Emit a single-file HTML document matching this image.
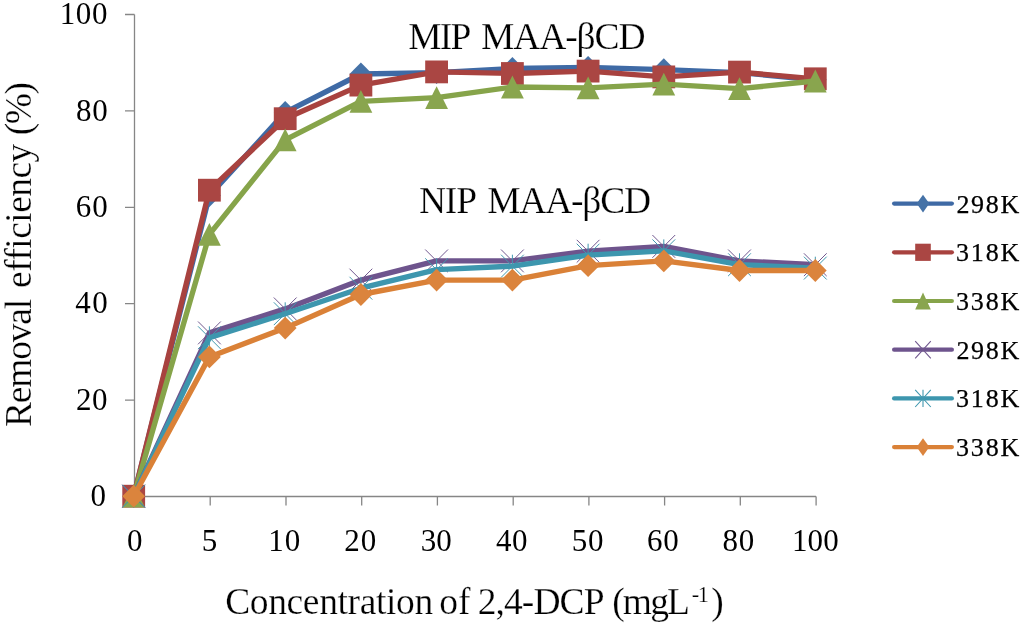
<!DOCTYPE html>
<html><head><meta charset="utf-8"><title>Removal efficiency chart</title>
<style>html,body{margin:0;padding:0;background:#fff}svg{display:block}text{font-family:"Liberation Serif",serif;fill:#000;white-space:pre}.t{stroke:#fff;stroke-width:.25px}.l{stroke:#000;stroke-width:.25px}</style></head><body>
<svg width="1024" height="629" viewBox="0 0 1024 629">
<rect width="1024" height="629" fill="#fff"/>
<g stroke="#868686" stroke-width="1.3" fill="none">
<path d="M134.5 14.5V496.5H816.1"/>
<path d="M125 496.5H134.5M125 400.1H134.5M125 303.7H134.5M125 207.3H134.5M125 110.9H134.5M125 14.5H134.5M134.5 496.5V505.5M210.2 496.5V505.5M286.0 496.5V505.5M361.7 496.5V505.5M437.4 496.5V505.5M513.2 496.5V505.5M588.9 496.5V505.5M664.6 496.5V505.5M740.3 496.5V505.5M816.1 496.5V505.5"/>
</g>
<g>
<text x="59.78" y="24.2" font-size="31" style="letter-spacing:0.60px">100</text>
<text x="75.93" y="120.6" font-size="31" style="letter-spacing:0.84px">80</text>
<text x="75.73" y="217.0" font-size="31" style="letter-spacing:1.04px">60</text>
<text x="75.32" y="313.4" font-size="31" style="letter-spacing:1.45px">40</text>
<text x="76.03" y="409.8" font-size="31" style="letter-spacing:0.54px">20</text>
<text x="90.60" y="506.2" font-size="31">0</text>
<text x="126.95" y="551.0" font-size="31">0</text>
<text x="201.81" y="551.0" font-size="31">5</text>
<text x="268.18" y="551.0" font-size="31" style="letter-spacing:0.99px">10</text>
<text x="344.13" y="551.0" font-size="31" style="letter-spacing:1.04px">20</text>
<text x="420.85" y="551.0" font-size="31" style="letter-spacing:-0.08px">30</text>
<text x="496.02" y="551.0" font-size="31" style="letter-spacing:0.45px">40</text>
<text x="571.75" y="551.0" font-size="31" style="letter-spacing:0.72px">50</text>
<text x="646.93" y="551.0" font-size="31" style="letter-spacing:0.84px">60</text>
<text x="722.53" y="551.0" font-size="31" style="letter-spacing:0.84px">80</text>
<text x="791.98" y="551.0" font-size="31" style="letter-spacing:0.10px">100</text>
<text class="l" x="956.39" y="212.6" font-size="26" style="letter-spacing:1.71px">298K</text>
<text class="l" x="955.98" y="261.3" font-size="26" style="letter-spacing:1.84px">318K</text>
<text class="l" x="955.98" y="310.0" font-size="26" style="letter-spacing:1.84px">338K</text>
<text class="l" x="956.39" y="358.7" font-size="26" style="letter-spacing:1.71px">298K</text>
<text class="l" x="955.98" y="407.4" font-size="26" style="letter-spacing:1.84px">318K</text>
<text class="l" x="955.98" y="456.1" font-size="26" style="letter-spacing:1.84px">338K</text>
<text class="t" font-size="37.5"><tspan x="225.13" y="613.5" style="letter-spacing:-0.36px">Concentration</tspan> <tspan x="439.23" y="613.5" style="letter-spacing:-0.07px">of</tspan> <tspan x="477.63" y="613.5" style="letter-spacing:-0.90px">2,4-DCP</tspan> <tspan x="612.13" y="613.5" style="letter-spacing:-1.81px">(mgL</tspan><tspan x="691.80" y="601.5" font-size="22.5" style="letter-spacing:-1.58px">-1</tspan><tspan x="711.30" y="613.5">)</tspan></text>
<text class="t" font-size="37.5"><tspan x="408.16" y="48.6" style="letter-spacing:-1.71px">MIP</tspan> <tspan x="481.01" y="48.6" style="letter-spacing:-1.10px">MAA-βCD</tspan></text>
<text class="t" font-size="37.5"><tspan x="418.91" y="213.2" style="letter-spacing:-1.15px">NIP</tspan> <tspan x="487.31" y="213.2" style="letter-spacing:-1.23px">MAA-βCD</tspan></text>
<text class="t" transform="translate(30.8 426.4) rotate(-90)" font-size="37.5"><tspan x="-0.59" y="0.0" style="letter-spacing:-1.22px">Removal</tspan> <tspan x="138.43" y="0.0" style="letter-spacing:-0.54px">efficiency</tspan> <tspan x="291.23" y="0.0" style="letter-spacing:-1.54px">(%)</tspan></text>
</g>
<polyline points="133.7,496.2 209.4,195.5 285.2,112.4 360.9,74.0 436.6,72.6 512.4,68.5 588.1,67.3 663.8,69.7 739.5,72.6 815.3,79.8" fill="none" stroke="#3F6AA5" stroke-width="5.35" stroke-linejoin="round" stroke-linecap="round"/>
<path d="M133.7 484.8L145.1 496.2L133.7 507.6L122.3 496.2Z" fill="#4572A7"/>
<path d="M209.4 184.1L220.8 195.5L209.4 206.9L198.0 195.5Z" fill="#4572A7"/>
<path d="M285.2 101.0L296.6 112.4L285.2 123.8L273.8 112.4Z" fill="#4572A7"/>
<path d="M360.9 62.6L372.3 74.0L360.9 85.4L349.5 74.0Z" fill="#4572A7"/>
<path d="M436.6 61.2L448.0 72.6L436.6 84.0L425.2 72.6Z" fill="#4572A7"/>
<path d="M512.4 57.1L523.8 68.5L512.4 79.9L501.0 68.5Z" fill="#4572A7"/>
<path d="M588.1 55.9L599.5 67.3L588.1 78.7L576.7 67.3Z" fill="#4572A7"/>
<path d="M663.8 58.3L675.2 69.7L663.8 81.1L652.4 69.7Z" fill="#4572A7"/>
<path d="M739.5 61.2L750.9 72.6L739.5 84.0L728.1 72.6Z" fill="#4572A7"/>
<path d="M815.3 68.4L826.7 79.8L815.3 91.2L803.9 79.8Z" fill="#4572A7"/>
<polyline points="133.7,496.2 209.4,190.2 285.2,118.7 360.9,85.1 436.6,71.9 512.4,73.5 588.1,71.1 663.8,76.9 739.5,72.1 815.3,78.8" fill="none" stroke="#A8423F" stroke-width="5.35" stroke-linejoin="round" stroke-linecap="round"/>
<rect x="122.3" y="484.8" width="22.8" height="22.8" fill="#AA4643"/>
<rect x="198.0" y="178.8" width="22.8" height="22.8" fill="#AA4643"/>
<rect x="273.8" y="107.3" width="22.8" height="22.8" fill="#AA4643"/>
<rect x="349.5" y="73.7" width="22.8" height="22.8" fill="#AA4643"/>
<rect x="425.2" y="60.5" width="22.8" height="22.8" fill="#AA4643"/>
<rect x="501.0" y="62.1" width="22.8" height="22.8" fill="#AA4643"/>
<rect x="576.7" y="59.7" width="22.8" height="22.8" fill="#AA4643"/>
<rect x="652.4" y="65.5" width="22.8" height="22.8" fill="#AA4643"/>
<rect x="728.1" y="60.7" width="22.8" height="22.8" fill="#AA4643"/>
<rect x="803.9" y="67.4" width="22.8" height="22.8" fill="#AA4643"/>
<polyline points="133.7,496.2 209.4,234.4 285.2,139.8 360.9,101.4 436.6,97.6 512.4,87.0 588.1,87.9 663.8,84.1 739.5,88.7 815.3,81.0" fill="none" stroke="#86A44A" stroke-width="5.35" stroke-linejoin="round" stroke-linecap="round"/>
<path d="M133.7 484.8L145.1 507.6L122.3 507.6Z" fill="#89A54E"/>
<path d="M209.4 223.0L220.8 245.8L198.0 245.8Z" fill="#89A54E"/>
<path d="M285.2 128.4L296.6 151.2L273.8 151.2Z" fill="#89A54E"/>
<path d="M360.9 90.0L372.3 112.8L349.5 112.8Z" fill="#89A54E"/>
<path d="M436.6 86.2L448.0 109.0L425.2 109.0Z" fill="#89A54E"/>
<path d="M512.4 75.6L523.8 98.4L501.0 98.4Z" fill="#89A54E"/>
<path d="M588.1 76.5L599.5 99.3L576.7 99.3Z" fill="#89A54E"/>
<path d="M663.8 72.7L675.2 95.5L652.4 95.5Z" fill="#89A54E"/>
<path d="M739.5 77.3L750.9 100.1L728.1 100.1Z" fill="#89A54E"/>
<path d="M815.3 69.6L826.7 92.4L803.9 92.4Z" fill="#89A54E"/>
<polyline points="133.7,496.2 209.4,332.9 285.2,308.9 360.9,280.1 436.6,260.9 512.4,260.9 588.1,251.2 663.8,246.4 739.5,260.9 815.3,264.7" fill="none" stroke="#6E548D" stroke-width="5.35" stroke-linejoin="round" stroke-linecap="round"/>
<path d="M122.3 484.8L145.1 507.6M145.1 484.8L122.3 507.6" stroke="#71588F" stroke-width="1.0" fill="none"/>
<path d="M198.0 321.5L220.8 344.3M220.8 321.5L198.0 344.3" stroke="#71588F" stroke-width="1.0" fill="none"/>
<path d="M273.8 297.5L296.6 320.3M296.6 297.5L273.8 320.3" stroke="#71588F" stroke-width="1.0" fill="none"/>
<path d="M349.5 268.7L372.3 291.5M372.3 268.7L349.5 291.5" stroke="#71588F" stroke-width="1.0" fill="none"/>
<path d="M425.2 249.5L448.0 272.3M448.0 249.5L425.2 272.3" stroke="#71588F" stroke-width="1.0" fill="none"/>
<path d="M501.0 249.5L523.8 272.3M523.8 249.5L501.0 272.3" stroke="#71588F" stroke-width="1.0" fill="none"/>
<path d="M576.7 239.8L599.5 262.6M599.5 239.8L576.7 262.6" stroke="#71588F" stroke-width="1.0" fill="none"/>
<path d="M652.4 235.0L675.2 257.8M675.2 235.0L652.4 257.8" stroke="#71588F" stroke-width="1.0" fill="none"/>
<path d="M728.1 249.5L750.9 272.3M750.9 249.5L728.1 272.3" stroke="#71588F" stroke-width="1.0" fill="none"/>
<path d="M803.9 253.3L826.7 276.1M826.7 253.3L803.9 276.1" stroke="#71588F" stroke-width="1.0" fill="none"/>
<polyline points="133.7,496.2 209.4,337.7 285.2,313.7 360.9,288.2 436.6,269.7 512.4,266.1 588.1,255.1 663.8,250.8 739.5,264.7 815.3,268.1" fill="none" stroke="#3D96AE" stroke-width="5.35" stroke-linejoin="round" stroke-linecap="round"/>
<path d="M122.3 484.8L145.1 507.6M145.1 484.8L122.3 507.6M133.7 484.8L133.7 507.6" stroke="#4198AF" stroke-width="1.0" fill="none"/>
<path d="M198.0 326.3L220.8 349.1M220.8 326.3L198.0 349.1M209.4 326.3L209.4 349.1" stroke="#4198AF" stroke-width="1.0" fill="none"/>
<path d="M273.8 302.3L296.6 325.1M296.6 302.3L273.8 325.1M285.2 302.3L285.2 325.1" stroke="#4198AF" stroke-width="1.0" fill="none"/>
<path d="M349.5 276.8L372.3 299.6M372.3 276.8L349.5 299.6M360.9 276.8L360.9 299.6" stroke="#4198AF" stroke-width="1.0" fill="none"/>
<path d="M425.2 258.3L448.0 281.1M448.0 258.3L425.2 281.1M436.6 258.3L436.6 281.1" stroke="#4198AF" stroke-width="1.0" fill="none"/>
<path d="M501.0 254.7L523.8 277.5M523.8 254.7L501.0 277.5M512.4 254.7L512.4 277.5" stroke="#4198AF" stroke-width="1.0" fill="none"/>
<path d="M576.7 243.7L599.5 266.5M599.5 243.7L576.7 266.5M588.1 243.7L588.1 266.5" stroke="#4198AF" stroke-width="1.0" fill="none"/>
<path d="M652.4 239.4L675.2 262.2M675.2 239.4L652.4 262.2M663.8 239.4L663.8 262.2" stroke="#4198AF" stroke-width="1.0" fill="none"/>
<path d="M728.1 253.3L750.9 276.1M750.9 253.3L728.1 276.1M739.5 253.3L739.5 276.1" stroke="#4198AF" stroke-width="1.0" fill="none"/>
<path d="M803.9 256.7L826.7 279.5M826.7 256.7L803.9 279.5M815.3 256.7L815.3 279.5" stroke="#4198AF" stroke-width="1.0" fill="none"/>
<polyline points="133.7,496.2 209.4,356.9 285.2,328.1 360.9,294.5 436.6,280.1 512.4,280.1 588.1,265.7 663.8,260.9 739.5,270.5 815.3,270.5" fill="none" stroke="#DA8137" stroke-width="5.35" stroke-linejoin="round" stroke-linecap="round"/>
<path d="M133.7 484.8L145.1 496.2L133.7 507.6L122.3 496.2Z" fill="#DB843D"/>
<path d="M209.4 345.5L220.8 356.9L209.4 368.3L198.0 356.9Z" fill="#DB843D"/>
<path d="M285.2 316.7L296.6 328.1L285.2 339.5L273.8 328.1Z" fill="#DB843D"/>
<path d="M360.9 283.1L372.3 294.5L360.9 305.9L349.5 294.5Z" fill="#DB843D"/>
<path d="M436.6 268.7L448.0 280.1L436.6 291.5L425.2 280.1Z" fill="#DB843D"/>
<path d="M512.4 268.7L523.8 280.1L512.4 291.5L501.0 280.1Z" fill="#DB843D"/>
<path d="M588.1 254.3L599.5 265.7L588.1 277.1L576.7 265.7Z" fill="#DB843D"/>
<path d="M663.8 249.5L675.2 260.9L663.8 272.3L652.4 260.9Z" fill="#DB843D"/>
<path d="M739.5 259.1L750.9 270.5L739.5 281.9L728.1 270.5Z" fill="#DB843D"/>
<path d="M815.3 259.1L826.7 270.5L815.3 281.9L803.9 270.5Z" fill="#DB843D"/>
<path d="M894.1 203.6H951.9" stroke="#3F6AA5" stroke-width="4.2" stroke-linecap="round"/>
<path d="M923 194.8L929.3 203.6L923 212.4L916.7 203.6Z" fill="#4572A7"/>
<path d="M894.1 252.3H951.9" stroke="#A8423F" stroke-width="4.2" stroke-linecap="round"/>
<rect x="915.2" y="243.7" width="15.6" height="17.2" fill="#AA4643"/>
<path d="M894.1 301.0H951.9" stroke="#86A44A" stroke-width="4.2" stroke-linecap="round"/>
<path d="M923 292.4L930.8 309.6L915.2 309.6Z" fill="#89A54E"/>
<path d="M894.1 349.7H951.9" stroke="#6E548D" stroke-width="4.2" stroke-linecap="round"/>
<path d="M915.2 341.1L930.8 358.3M930.8 341.1L915.2 358.3" stroke="#71588F" stroke-width="1.1"/>
<path d="M894.1 398.4H951.9" stroke="#3D96AE" stroke-width="4.2" stroke-linecap="round"/>
<path d="M915.2 389.8L930.8 407.0M930.8 389.8L915.2 407.0M923 389.8V407.0" stroke="#4198AF" stroke-width="1.1"/>
<path d="M894.1 447.1H951.9" stroke="#DA8137" stroke-width="4.2" stroke-linecap="round"/>
<path d="M923 438.3L929.3 447.1L923 455.9L916.7 447.1Z" fill="#DB843D"/>
</svg></body></html>
